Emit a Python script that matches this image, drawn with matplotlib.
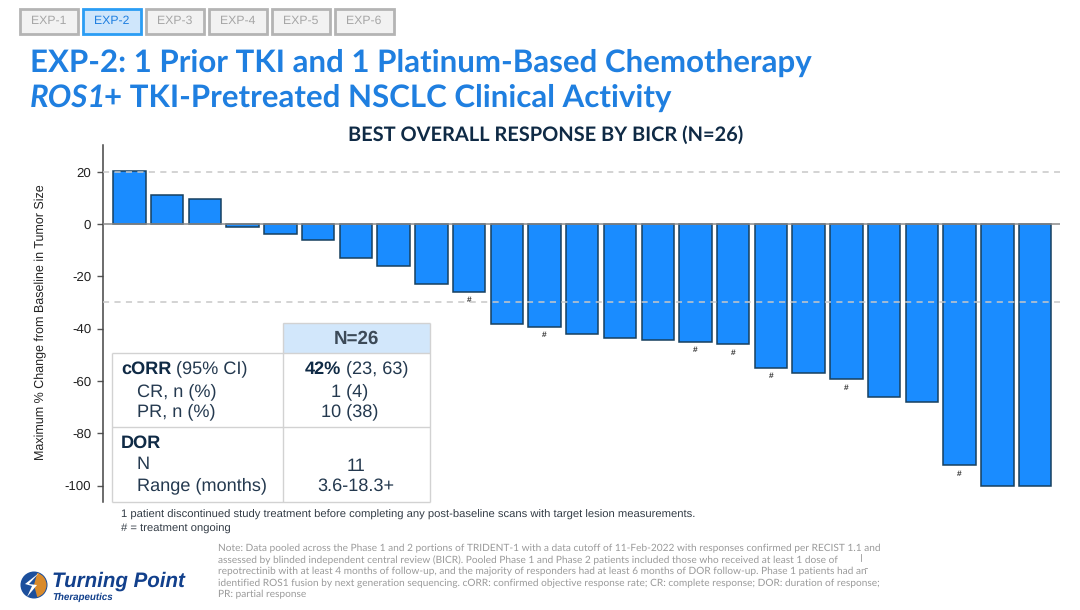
import matplotlib
matplotlib.use("Agg")
import matplotlib.pyplot as plt
from matplotlib.patches import Rectangle, Circle, Wedge, Polygon

# ---------------------------------------------------------------------------
# Data
# ---------------------------------------------------------------------------
tab_labels = ["EXP-1", "EXP-2", "EXP-3", "EXP-4", "EXP-5", "EXP-6"]
active_tab = "EXP-2"

response = [20.3, 11.1, 9.7, -1.0, -3.8, -6.1, -12.9, -15.9, -22.8, -25.9,
            -38.2, -39.2, -41.9, -43.6, -44.4, -45.0, -46.0, -55.0, -57.0,
            -59.3, -66.0, -68.0, -92.2, -100.0, -100.0]
ongoing = [10, 12, 16, 17, 18, 20, 23]   # patient numbers marked with #
y_ticks = [20, 0, -20, -40, -60, -80, -100]
ref_lines = [20, -30]

title_1 = "EXP-2: 1 Prior TKI and 1 Platinum-Based Chemotherapy"
title_2a = "ROS1"
title_2b = "+ TKI-Pretreated NSCLC Clinical Activity"
subtitle = "BEST OVERALL RESPONSE BY BICR (N=26)"
y_label = "Maximum % Change from Baseline in Tumor Size"

footnotes = [
    "1 patient discontinued study treatment before completing any post-baseline scans with target lesion measurements.",
    "# = treatment ongoing",
]
note_lines = [
    "Note: Data pooled across the Phase 1 and 2 portions of TRIDENT-1 with a data cutoff of 11-Feb-2022 with responses confirmed per RECIST 1.1 and",
    "assessed by blinded independent central review (BICR). Pooled Phase 1 and Phase 2 patients included those who received at least 1 dose of",
    "repotrectinib with at least 4 months of follow-up, and the majority of responders had at least 6 months of DOR follow-up. Phase 1 patients had an",
    "identified ROS1 fusion by next generation sequencing. cORR: confirmed objective response rate; CR: complete response; DOR: duration of response;",
    "PR: partial response",
]

BLUE = "#1a8cff"
TITLE_BLUE = "#1f7fe0"
NAVY = "#0f2a45"
TEXT = "#24394f"
GRID = "#c8c8c8"
SANS = "Liberation Sans"

plt.rcParams["font.family"] = SANS
plt.rcParams["axes.unicode_minus"] = False
plt.rcParams["text.hinting"] = "no_hinting"

W, H = 1080, 610
fig = plt.figure(figsize=(W / 100, H / 100), dpi=100, facecolor="white")

# ── Chart axes ────────────────────────────────────────────────────
left, right, top, bottom = 103, 1060, 145, 502
ax = fig.add_axes([left / W, 1 - bottom / H, (right - left) / W, (bottom - top) / H])
xs = list(range(1, len(response) + 1))
ax.bar(xs, response, width=0.86, color=BLUE, edgecolor="#17405f", linewidth=1.1, zorder=2)
for y in ref_lines:
    ax.axhline(y, color=GRID, linestyle=(0, (4, 3.5)), linewidth=1.1, zorder=3)
ax.axhline(0, color="#8a8a8a", linewidth=1.1, zorder=3)
for p in ongoing:
    ax.text(p, response[p - 1] - 3.2, "#", fontsize=6, color="#333333", ha="center",
            va="center", fontweight="bold", zorder=4)
ax.set_xlim(0.30, 25.66)
ax.set_ylim(-106.3, 30.2)
ax.set_yticks(y_ticks)
ax.set_xticks([])
ax.tick_params(axis="y", length=4.5, width=1, color="#555555", labelsize=9.5,
               labelcolor="#222222", pad=4)
for s in ["top", "right", "bottom"]:
    ax.spines[s].set_visible(False)
ax.spines["left"].set_color("#444444")
ax.spines["left"].set_linewidth(1.1)

# ── Overlay in pixel coordinates: titles, tabs, table, notes, logo ─
ov = fig.add_axes([0, 0, 1, 1], facecolor="none")
ov.set_xlim(0, W)
ov.set_ylim(H, 0)
ov.axis("off")

for i, label in enumerate(tab_labels):
    on = label == active_tab
    x0 = 19.5 + i * 63.1
    ov.add_patch(Rectangle((x0, 9), 58.5, 25, facecolor="#cfe6fb" if on else "#f2f2f2",
                           edgecolor="#2a9df4" if on else "#b4b4b4", linewidth=2))
    ov.text(x0 + 29.2, 21, label, fontsize=8.8, ha="center", va="center",
            color=TITLE_BLUE if on else "#a6a6a6")

ov.text(30, 62.5, title_1, fontsize=22.5, fontweight="bold", family="Lato",
        color=TITLE_BLUE, ha="left", va="center")
ov.text(30, 97.5, title_2a, fontsize=22.5, fontweight="bold", style="italic", family="Lato",
        color=TITLE_BLUE, ha="left", va="center")
ov.text(104, 97.5, title_2b, fontsize=22.5, fontweight="bold", family="Lato",
        color=TITLE_BLUE, ha="left", va="center")
ov.text(546, 134.5, subtitle, fontsize=14.4, fontweight="bold", family="Lato",
        color=NAVY, ha="center", va="center")
ov.text(41, 322, y_label, fontsize=9, rotation=90, color="#222222", ha="center", va="center")

# table
ov.add_patch(Rectangle((283, 323), 147, 30, facecolor="#d2e7fb", edgecolor="none", zorder=5))
ov.add_patch(Rectangle((112, 353), 318, 149, facecolor="white", edgecolor="none", zorder=5))
tbl_lines = [
    ((283, 283), (323, 502)), ((430, 430), (323, 502)), ((283, 430), (323, 323)),
    ((112, 430), (353, 353)), ((112, 430), (427, 427)), ((112, 430), (502, 502)),
    ((112, 112), (353, 502)),
]
for lx, ly in tbl_lines:
    ov.plot(lx, ly, color="#d2d2d2", linewidth=1.0, zorder=6, solid_capstyle="butt")


def cell(x, y, s, bold=False, ha="left", color=TEXT):
    ov.text(x, y, s, fontsize=13.1, fontweight="bold" if bold else "normal", color=color,
            ha=ha, va="center", zorder=7)


ov.text(356, 339, "N=26", fontsize=13.5, fontweight="bold", color="#3c4a58",
        ha="center", va="center", zorder=7)
cell(121, 369, "cORR", bold=True, color=NAVY)
cell(176.5, 369, "(95% CI)")
cell(305, 369, "42%", bold=True, color=NAVY)
cell(345.5, 369, "(23, 63)")
cell(137, 391.5, "CR, n (%)")
cell(350, 391.5, "1 (4)", ha="center")
cell(137, 412, "PR, n (%)")
cell(350, 412, "10 (38)", ha="center")
cell(121, 443, "DOR", bold=True, color=NAVY)
cell(137, 464, "N")
cell(356, 466, "11", ha="center")
cell(137, 486, "Range (months)")
cell(356, 486, "3.6-18.3+", ha="center")

ov.text(121, 515, footnotes[0], fontsize=8.1, color="#333c46", ha="left", va="center")
ov.text(121, 529, footnotes[1], fontsize=8.1, color="#333c46", ha="left", va="center")

for i, line in enumerate(note_lines):
    ov.text(218, 548.8 + i * 11.4, line, fontsize=7.3, family="Lato", color="#9a9a9a",
            ha="left", va="center")
ov.plot([861, 861], [554, 561], color="#999999", linewidth=0.6)
ov.plot([865, 867], [568, 568], color="#999999", linewidth=0.6)

# logo
ov.add_patch(Circle((34, 585), 13.5, facecolor="#1c4f9c", edgecolor="none"))
ov.add_patch(Wedge((34, 585), 12.5, -75, 75, facecolor="#d98a2b", edgecolor="none"))
ov.add_patch(Polygon([[39, 573], [29, 584], [37, 585], [27, 597], [32, 586], [25, 584]],
                     facecolor="white", edgecolor="none"))
ov.text(52, 581, "Turning Point", fontsize=14.8, fontweight="bold", style="italic",
        color="#12408c", ha="left", va="center")
ov.text(52, 597.5, "Therapeutics", fontsize=7, fontweight="bold", style="italic",
        color="#12408c", ha="left", va="center")

fig.savefig("out.png", dpi=100, facecolor="white")
plt.close(fig)
